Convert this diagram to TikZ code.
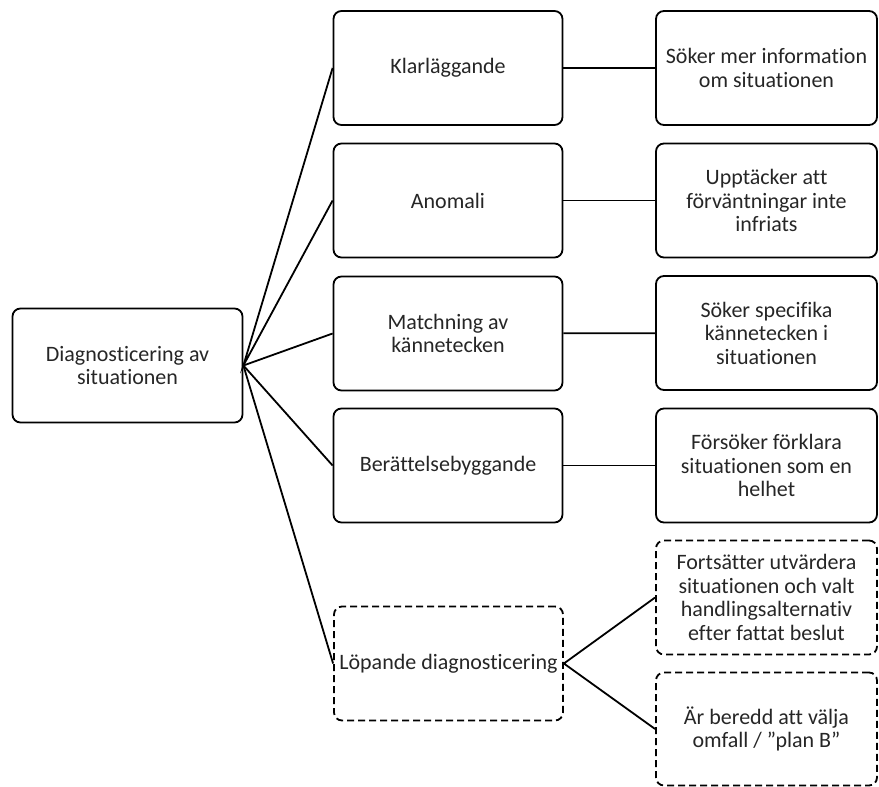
\documentclass[tikz,border=0pt]{standalone}
\usepackage{fontspec}
\setmainfont{Carlito}[RawFeature={-liga}]
\usetikzlibrary{calc}
\tikzset{
	box/.style={draw, line width=1.8pt, rounded corners=8pt, align=center, minimum height=114pt, text=black!85, font=\fontsize{22}{23.5}\selectfont},
	dbox/.style={box, dash pattern=on 7pt off 4pt},
	link/.style={line width=1.8pt}
}

\begin{document}
\begin{tikzpicture}[x=1pt, y=-1pt]
		%%%%% START %%%%%
		\useasboundingbox (0, 0) rectangle (879, 787);
		
		\node[box, minimum width=230pt] (diag) at (127.5, 365.5) {Diagnosticering av\\situationen};
		
		\node[box, minimum width=229pt] (klar) at (448, 68) {Klarläggande};
		\node[box, minimum width=229pt] (anom) at (448, 200.5) {Anomali};
		\node[box, minimum width=229pt] (match) at (448, 333.5) {Matchning av\\kännetecken};
		\node[box, minimum width=229pt] (ber) at (448, 465.5) {Berättelsebyggande};
		\node[dbox, minimum width=229pt, inner sep=0pt] (lop) at (448.5, 663.5) {Löpande diagnosticering};
		
		\node[box, minimum width=221pt] (klarR) at (766.5, 68) {Söker mer information\\om situationen};
		\node[box, minimum width=221pt] (anomR) at (766.5, 200.5) {Upptäcker att\\förväntningar inte\\infriats};
		\node[box, minimum width=221pt] (matchR) at (766.5, 333) {Söker specifika\\kännetecken i\\situationen};
		\node[box, minimum width=221pt] (berR) at (766.5, 465.5) {Försöker förklara\\situationen som en\\helhet};
		
		\node[dbox, minimum width=221pt] (lopA) at (766.5, 597.5) {Fortsätter utvärdera\\situationen och valt\\handlingsalternativ\\efter fattat beslut};
		\node[dbox, minimum width=221pt, minimum height=113pt] (lopB) at (766.5, 729) {Är beredd att välja\\omfall / ”plan B”};
		
		\draw[link] (klar.west) -- (diag.east) -- (anom.west);
		\draw[link] (match.west) -- (diag.east) -- (ber.west);
		\draw[link] (diag.east) -- (lop.west);
		
		\draw[link] (klar) -- (klarR);
		\draw[link] (anom) -- (anomR);
		\draw[link] (match) -- (matchR);
		\draw[link] (ber) -- (berR);
		
		\draw[link] (lopA.west) -- (lop.east) -- (lopB.west);
		%%%%% END %%%%%
\end{tikzpicture}
\end{document}
